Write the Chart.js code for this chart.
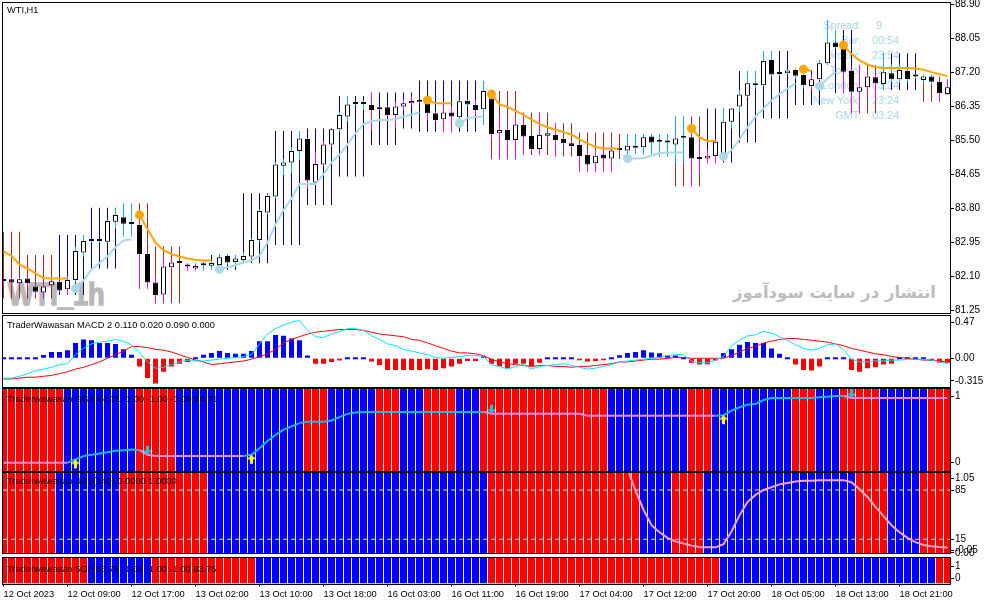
<!DOCTYPE html>
<html lang="en"><head><meta charset="utf-8">
<title>WTI,H1</title>
<script src="https://cdn.jsdelivr.net/npm/chart.js@4.4.1/dist/chart.umd.min.js"></script>
<style>
html,body{margin:0;padding:0;background:#fff;}
body{position:relative;width:991px;height:605px;overflow:hidden;}
canvas.cv{position:absolute;left:0;top:0;z-index:1;}
.lay{position:absolute;white-space:nowrap;font-family:"Liberation Sans",Arial,sans-serif;}
.bg{z-index:0;}
.fg{z-index:2;font-size:9.3px;line-height:12px;color:#000;}
#mark{left:8px;top:278px;font-size:32px;line-height:32px;font-weight:bold;color:#b8b8b8;-webkit-text-stroke:1.5px #b8b8b8;transform:scaleX(0.85);transform-origin:0 0;}
#fa{right:55px;top:280px;font-family:"DejaVu Sans",sans-serif;font-size:16.5px;line-height:26px;font-weight:bold;color:#bcbcbc;direction:rtl;}
#infoL{right:130px;top:17.5px;text-align:right;font-size:10.8px;line-height:15px;color:#add8e6;}
#infoV{left:872px;top:17.5px;font-size:10.8px;line-height:15px;color:#add8e6;}
</style></head>
<body>
<div class="lay bg" id="mark">WTI_1h</div>
<div class="lay bg" id="fa">انتشار در سایت سودآموز</div>
<div class="lay bg" id="infoL">Spread:<br>Bar:<br>Broker:<br>Tokyo:<br>London:<br>New York&nbsp;<br>GMT:</div>
<div class="lay bg" id="infoV"><span style="padding-left:4px">9</span><br>00:54<br>23:54<br>12:24<br>03:24<br>23:24<br>03:24</div>
<canvas class="cv" id="cMain" width="991" height="605"></canvas>
<canvas class="cv" id="cMacd" width="991" height="605"></canvas>
<canvas class="cv" id="cSga" width="991" height="605"></canvas>
<canvas class="cv" id="cG4" width="991" height="605"></canvas>
<canvas class="cv" id="cG5" width="991" height="605"></canvas>
<div class="lay fg" style="left:7px;top:4px">WTI,H1</div>
<div class="lay fg" style="left:7px;top:319px">TraderWawasan MACD 2 0.110 0.020 0.090 0.000</div>
<div class="lay fg" style="left:7px;top:393px">Traderwawasan SGA 84.71 -1.00 -1.00 -1.00 84.71</div>
<div class="lay fg" style="left:7px;top:474.5px">Traderwawasan 4G1(240) 0.0000 1.0000</div>
<div class="lay fg" style="left:7px;top:563px">Traderwawasan 5GA 83.75 -1.00 -1.00 -1.00 83.75</div>
<script>
// ---------------- data ----------------
const xLabels = ['12 Oct 2023','12 Oct 09:00','12 Oct 17:00','13 Oct 02:00','13 Oct 10:00','13 Oct 18:00','16 Oct 03:00','16 Oct 11:00','16 Oct 19:00','17 Oct 04:00','17 Oct 12:00','17 Oct 20:00','18 Oct 05:00','18 Oct 13:00','18 Oct 21:00'];
const LABEL_STEP = 8;

const open = [
82.00,82.03,81.93,82.05,81.85,81.70,81.88,81.97,81.78,82.01,
82.70,83.00,82.99,82.97,83.47,83.58,83.42,83.39,82.66,81.95,
81.65,82.33,82.46,82.37,82.30,82.38,82.37,82.39,82.61,82.46,
82.51,82.60,83.01,83.70,84.10,84.87,84.95,85.24,85.54,84.45,
84.90,85.40,85.78,86.10,86.42,86.41,86.39,86.30,86.33,86.14,
86.35,86.43,86.48,86.51,86.18,86.03,86.20,86.08,86.49,86.39,
86.28,86.55,85.68,85.76,85.51,85.89,85.61,85.29,85.62,85.64,
85.54,85.43,85.39,85.14,84.93,85.15,85.05,85.26,85.25,85.36,
85.33,85.60,85.47,85.46,85.40,85.58,85.58,85.05,85.05,85.11,
85.14,85.97,86.35,86.62,86.88,86.88,87.51,87.16,87.18,87.26,
87.14,86.86,87.03,87.43,87.95,87.95,87.24,86.72,86.83,87.08,
86.91,87.18,87.03,87.24,87.10,87.01,87.10,86.97,86.66];
const high = [
82.10,82.08,82.06,82.10,81.90,81.90,82.00,82.00,82.10,82.85,
83.14,83.05,83.04,83.52,83.80,83.93,83.93,83.64,82.70,82.10,
82.60,82.50,82.49,82.43,82.43,82.48,82.50,82.66,82.66,82.64,
82.70,83.05,83.78,84.15,84.95,85.04,85.33,85.74,85.56,85.22,
85.47,85.80,86.22,86.61,86.45,86.50,86.70,86.33,86.36,86.47,
86.53,86.60,86.52,86.55,86.22,86.43,86.35,86.50,86.52,86.51,
86.99,86.60,86.10,85.85,86.10,86.18,85.65,86.18,85.72,85.93,
85.58,85.46,85.43,85.18,85.26,85.26,85.43,85.30,85.66,85.66,
85.66,85.66,85.66,85.66,86.10,86.10,85.85,85.55,85.26,85.55,
86.30,86.30,86.76,87.24,87.24,87.74,87.74,87.20,87.28,87.30,
87.26,87.14,87.51,88.51,88.26,88.00,87.30,87.39,87.15,87.20,
87.68,87.40,87.40,87.30,87.15,87.15,87.15,86.99,87.03];
const low = [
81.86,81.90,81.88,81.88,81.64,81.60,81.85,81.72,81.64,81.95,
82.60,82.95,82.95,82.95,83.30,83.10,83.10,81.80,81.80,81.43,
81.43,82.30,82.42,82.25,82.25,82.25,82.26,82.18,82.40,82.35,
82.47,82.55,82.98,83.65,84.05,84.64,84.68,85.01,84.30,84.42,
84.85,85.35,85.72,85.97,86.38,86.26,85.76,86.25,86.10,85.80,
86.26,86.39,86.44,86.01,85.98,85.72,85.70,85.97,86.36,86.14,
85.89,85.55,85.03,85.03,85.03,85.14,85.25,85.14,85.58,85.10,
85.40,85.33,84.72,84.72,84.72,84.72,84.72,85.22,85.01,85.16,
85.15,85.15,85.10,85.10,84.95,84.95,84.35,84.68,84.93,84.93,
85.01,85.80,86.22,86.59,86.80,86.85,87.10,87.12,87.15,87.05,
86.80,86.76,87.01,87.39,87.80,86.68,86.18,86.18,86.60,86.55,
86.76,86.95,86.95,86.95,87.05,86.95,86.90,86.47,86.64];
const close = [
81.99,81.95,82.03,81.93,81.72,81.85,81.98,81.75,82.01,82.74,
82.99,82.99,83.00,83.49,83.64,83.42,83.41,82.66,81.95,81.64,
82.35,82.45,82.44,82.35,82.36,82.39,82.44,82.58,82.45,82.55,
82.61,83.01,83.74,84.11,84.90,84.95,85.24,85.55,84.50,84.91,
85.40,85.78,86.14,86.40,86.41,86.42,86.26,86.28,86.14,86.35,
86.43,86.49,86.47,86.18,86.01,86.20,86.10,86.48,86.40,86.26,
86.74,85.66,85.76,85.51,85.90,85.60,85.29,85.64,85.68,85.51,
85.43,85.36,85.11,84.90,85.12,85.05,85.25,85.26,85.37,85.32,
85.58,85.45,85.47,85.45,85.55,85.57,85.05,85.04,85.12,85.47,
85.97,86.30,86.65,86.93,86.89,87.49,87.15,87.16,87.25,87.12,
86.88,87.03,87.43,87.95,87.83,87.22,86.72,86.83,87.10,86.93,
87.22,87.03,87.26,87.04,87.10,87.10,86.97,86.68,86.83];
// wick tone: 1 = sky blue, -1 = magenta
const wickTone = [
-1,-1,-1,-1,-1,-1,-1,-1,-1,1,
1,1,1,1,1,1,1,-1,-1,-1,
-1,-1,-1,-1,-1,1,1,1,1,1,
1,1,1,1,1,1,1,1,-1,-1,
-1,-1,1,1,1,1,-1,-1,-1,-1,
-1,-1,-1,-1,-1,-1,-1,1,1,-1,
1,-1,-1,-1,-1,-1,-1,-1,-1,-1,
-1,-1,-1,-1,-1,-1,-1,-1,1,1,
1,1,1,1,1,1,-1,-1,-1,-1,
1,1,1,1,1,1,1,1,1,1,
1,-1,1,1,1,-1,-1,-1,-1,-1,
1,1,1,1,1,1,1,-1,-1];
// trend range bars behind candles: 1 = navy (up), -1 = brown (down), 0 = none
const rangeHi = [
83.22,83.22,83.22,82.64,82.64,82.64,82.64,83.14,83.14,83.14,
83.14,83.82,83.82,83.82,83.82,null,null,83.93,83.93,82.85,
82.85,82.85,82.85,null,null,null,82.64,null,82.64,82.64,
84.18,84.18,84.18,84.18,85.74,85.74,85.74,85.74,85.80,85.80,
85.80,85.80,86.61,86.61,86.61,86.61,86.70,86.70,86.70,86.70,
86.70,86.70,87.00,87.00,87.00,87.00,87.00,87.00,87.00,87.00,
null,86.74,86.74,86.74,86.74,86.20,86.20,86.20,86.20,85.93,
85.93,85.93,85.70,85.70,85.70,85.70,85.70,85.66,null,null,
null,null,null,null,86.10,86.10,86.10,86.10,86.30,86.30,
86.30,86.30,87.24,87.24,87.24,87.74,87.74,87.74,87.74,87.26,
87.26,87.26,87.26,null,88.26,88.26,88.26,87.39,87.39,87.39,
87.68,87.68,87.68,87.68,87.68,87.10,87.10,87.10,null];
const rangeLo = [
81.55,81.55,81.55,81.55,81.55,81.55,81.55,81.64,81.64,81.64,
81.64,82.30,82.30,82.30,82.30,null,null,81.80,81.80,81.43,
81.43,81.43,81.43,null,null,null,82.26,null,82.26,82.26,
82.43,82.43,82.43,82.43,82.89,82.89,82.89,82.89,83.89,83.89,
83.89,83.89,84.60,84.60,84.60,84.60,85.39,85.39,85.39,85.39,
85.80,85.80,85.72,85.72,85.72,85.72,85.72,85.72,85.72,85.72,
null,85.03,85.03,85.03,85.03,85.14,85.14,85.14,85.14,85.10,
85.10,85.10,84.72,84.72,84.72,84.72,84.72,85.04,null,null,
null,null,null,null,84.35,84.35,84.35,84.35,84.93,84.93,
84.95,84.95,85.45,85.45,85.45,86.05,86.05,86.05,86.05,86.39,
86.39,86.39,86.39,null,86.68,86.68,86.68,86.18,86.18,86.18,
86.76,86.76,86.76,86.76,86.76,86.47,86.47,86.47,null];
const rangeTone = [
-1,-1,-1,-1,-1,-1,-1,1,1,1,
1,1,1,1,1,0,0,-1,-1,-1,
-1,-1,-1,0,0,0,1,0,1,1,
1,1,1,1,1,1,1,1,1,1,
1,1,1,1,1,1,1,1,1,1,
1,1,1,1,1,1,1,1,1,1,
0,-1,-1,-1,-1,-1,-1,-1,-1,-1,
-1,-1,-1,-1,-1,-1,-1,-1,0,0,
0,0,0,0,-1,-1,-1,-1,1,1,
1,1,1,1,1,1,1,1,1,1,
1,1,1,0,1,1,1,-1,-1,-1,
1,1,1,1,1,-1,-1,-1,0];
// stop lines
const resistance = [
82.72,82.62,82.40,82.30,82.18,82.06,82.05,82.05,82.05,null,
null,null,null,null,null,null,null,83.64,83.28,82.95,
82.76,82.66,82.60,82.55,82.52,82.50,82.50,null,null,null,
null,null,null,null,null,null,null,null,null,null,
null,null,null,null,null,null,null,null,null,null,
null,null,null,86.51,86.43,86.43,86.43,null,null,null,
null,86.66,86.40,86.34,86.24,86.14,86.02,85.91,85.83,85.77,
85.71,85.65,85.53,85.43,85.34,85.30,85.30,85.30,null,null,
null,null,null,null,null,null,85.80,85.58,85.49,85.49,
null,null,null,null,null,null,null,null,null,null,
87.28,87.24,null,null,null,87.88,87.66,87.50,87.40,87.33,
87.31,87.31,87.31,87.31,87.30,87.27,87.21,87.16,87.11];
const support = [
null,null,null,null,null,null,null,null,null,81.80,
82.00,82.27,82.44,82.60,82.83,83.00,83.03,null,null,null,
null,null,null,null,null,null,null,82.28,82.33,82.38,
82.45,82.50,82.62,82.95,83.40,83.76,84.05,84.41,84.41,84.41,
84.65,84.95,85.15,85.40,85.68,85.91,85.98,86.01,86.01,86.03,
86.10,86.15,86.20,null,null,null,null,85.93,86.06,86.09,
86.10,null,null,null,null,null,null,null,null,null,
null,null,null,null,null,null,null,null,85.05,85.05,
85.06,85.12,85.19,85.20,85.20,85.20,null,null,null,null,
85.10,85.26,85.53,85.83,86.10,86.30,86.50,86.66,86.80,86.92,
null,null,86.86,87.05,87.22,null,null,null,null,null,
null,null,null,null,null,null,null,null,null];
const mainTicks = [88.90,88.05,87.20,86.35,85.50,84.65,83.80,82.95,82.10,81.25];

// MACD
const macdHist = [
0,0,0,0,0,0.037,0.07,0.07,0.09,0.17,
0.21,0.20,0.17,0.17,0.16,0.10,0.04,-0.09,-0.22,-0.28,
-0.15,-0.09,-0.06,-0.04,0,0.04,0.06,0.08,0.06,0.05,
0.05,0.08,0.19,0.19,0.26,0.25,0.22,0.20,0.03,-0.06,
-0.06,-0.04,-0.025,0,0,0,-0.035,-0.075,-0.13,-0.13,
-0.13,-0.13,-0.13,-0.12,-0.13,-0.11,-0.09,-0.06,-0.03,-0.03,
0.02,-0.06,-0.09,-0.11,-0.06,-0.06,-0.09,-0.05,0,0,
0,0,-0.02,-0.035,-0.03,-0.02,0,0.035,0.06,0.07,
0.09,0.065,0.055,0.03,0.03,0,-0.05,-0.07,-0.065,-0.025,
0.06,0.10,0.15,0.18,0.17,0.17,0.11,0.05,0,-0.07,
-0.13,-0.135,-0.09,0,0,0,-0.13,-0.15,-0.11,-0.10,
-0.07,-0.06,0,0,0,0,-0.03,-0.05,-0.05];
const macdMain = [
-0.22,-0.22,-0.20,-0.17,-0.14,-0.12,-0.10,-0.07,-0.06,0.04,
0.11,0.16,0.18,0.19,0.21,0.19,0.15,0.06,-0.04,-0.11,
-0.10,-0.07,-0.04,-0.02,-0.03,-0.03,-0.02,-0.01,0.00,0.01,
0.02,0.04,0.16,0.27,0.33,0.37,0.40,0.42,0.31,0.24,
0.23,0.27,0.30,0.33,0.33,0.31,0.25,0.21,0.16,0.14,
0.10,0.08,0.06,0.04,0.01,0.00,0.01,0.02,0.03,0.03,
0.02,-0.07,-0.09,-0.12,-0.09,-0.07,-0.12,-0.09,-0.08,-0.07,
-0.06,-0.08,-0.10,-0.12,-0.11,-0.09,-0.07,-0.04,-0.03,-0.02,
-0.01,0.00,0.01,0.03,0.04,0.04,-0.03,-0.05,-0.05,-0.02,
0.02,0.14,0.20,0.25,0.26,0.30,0.28,0.24,0.20,0.15,
0.11,0.09,0.11,0.15,0.16,0.10,-0.01,-0.04,-0.04,-0.03,
-0.03,-0.02,-0.02,-0.01,-0.01,-0.01,-0.02,-0.04,-0.06];
const macdSignal = [
-0.23,-0.23,-0.22,-0.21,-0.21,-0.20,-0.19,-0.17,-0.15,-0.12,
-0.10,-0.07,-0.04,0.00,0.04,0.08,0.13,0.13,0.12,0.10,
0.09,0.07,0.04,0.01,-0.02,-0.04,-0.07,-0.06,-0.05,-0.04,
-0.03,-0.01,0.02,0.05,0.10,0.17,0.21,0.24,0.27,0.29,
0.30,0.31,0.32,0.32,0.32,0.31,0.29,0.27,0.26,0.25,
0.24,0.21,0.20,0.17,0.14,0.11,0.08,0.06,0.06,0.05,
0.03,-0.01,-0.04,-0.06,-0.07,-0.08,-0.09,-0.08,-0.08,-0.09,
-0.09,-0.10,-0.09,-0.09,-0.08,-0.07,-0.06,-0.04,-0.04,-0.03,
-0.02,-0.01,-0.01,0.00,0.01,0.01,0.00,0.00,0.00,0.00,
0.00,0.03,0.07,0.11,0.13,0.17,0.19,0.21,0.22,0.22,
0.21,0.20,0.19,0.18,0.16,0.14,0.11,0.09,0.07,0.05,
0.04,0.02,0.01,0.00,-0.01,-0.02,-0.02,-0.03,-0.04];
const macdTickLabels = ['0.47','0.00','-0.315'];

// SGA (1 = blue, -1 = red)
const sgaState = [
-1,-1,-1,-1,-1,-1,-1,-1,1,1,
1,1,1,1,1,1,1,-1,-1,-1,
-1,-1,1,1,1,1,1,1,1,1,
1,1,1,1,1,1,1,1,-1,-1,
-1,1,1,1,1,1,1,-1,-1,-1,
1,1,1,-1,-1,-1,-1,1,1,1,
-1,-1,-1,-1,-1,-1,-1,-1,-1,-1,
-1,-1,-1,-1,-1,-1,1,1,1,1,
1,1,1,1,1,1,-1,-1,-1,1,
1,1,1,1,1,1,1,1,1,-1,
-1,-1,1,1,1,-1,-1,-1,-1,-1,
1,1,1,1,1,1,-1,-1,-1];
const sgaLine = [
0,0,0,0,0,0,0,0,0,0.05,
0.10,0.12,0.14,0.16,0.18,0.19,0.20,0.19,0.12,0.10,
0.10,0.10,0.10,0.10,0.10,0.10,0.10,0.10,0.10,0.10,
0.10,0.12,0.22,0.33,0.42,0.50,0.55,0.60,0.62,0.62,
0.62,0.64,0.69,0.74,0.76,0.77,0.77,0.77,0.77,0.77,
0.77,0.77,0.77,0.77,0.77,0.77,0.77,0.77,0.77,0.77,
0.77,0.74,0.74,0.74,0.74,0.74,0.74,0.74,0.74,0.74,
0.74,0.74,0.74,0.71,0.71,0.71,0.71,0.71,0.71,0.71,
0.71,0.71,0.71,0.71,0.71,0.71,0.71,0.71,0.71,0.71,
0.72,0.79,0.84,0.88,0.89,0.95,0.98,0.98,0.98,0.98,
0.98,0.98,0.99,1.00,1.01,1.01,0.98,0.98,0.98,0.98,
0.98,0.98,0.98,0.98,0.98,0.98,0.98,0.98,0.98];
const sgaUpArrows = [9, 31, 90];
const sgaDownArrows = [18, 61, 106];
const sgaTickLabels = ['1','0'];

// 4G1
const g4State = [
-1,-1,-1,-1,-1,-1,-1,1,1,1,
1,1,1,1,1,-1,-1,-1,-1,-1,
-1,-1,-1,-1,-1,-1,1,1,1,1,
1,1,1,1,1,1,1,1,1,1,
1,1,1,1,1,1,1,1,1,1,
1,1,1,1,1,1,1,1,1,1,
1,-1,-1,-1,-1,-1,-1,-1,-1,-1,
-1,-1,-1,-1,-1,-1,-1,-1,-1,-1,
1,1,1,1,-1,-1,-1,-1,1,1,
1,1,1,1,1,1,1,1,1,1,
1,1,1,1,1,1,1,-1,-1,-1,
-1,1,1,1,1,-1,-1,-1,-1];
const g4Line = [
null,null,null,null,null,null,null,null,null,null,
null,null,null,null,null,null,null,null,null,null,
null,null,null,null,null,null,null,null,null,null,
null,null,null,null,null,null,null,null,null,null,
null,null,null,null,null,null,null,null,null,null,
null,null,null,null,null,null,null,null,null,null,
null,null,null,null,null,null,null,null,null,null,
null,null,null,null,null,null,null,null,1.15,0.84,
0.57,0.35,0.25,0.17,0.12,0.09,0.06,0.04,0.036,0.036,
0.08,0.26,0.49,0.68,0.78,0.85,0.89,0.93,0.95,0.97,
0.98,0.98,0.99,0.99,0.99,0.99,0.96,0.86,0.75,0.61,
0.48,0.35,0.25,0.17,0.11,0.07,0.05,0.04,0.035];
const g4Levels = [0.85, 0.15];
const g4TickLabels = ['1.05','85','15','-0.05','0.00'];

// 5GA
const g5State = [
-1,-1,-1,-1,-1,-1,-1,-1,-1,-1,
-1,1,1,1,1,1,1,1,1,-1,
-1,-1,-1,-1,-1,-1,-1,-1,-1,-1,
-1,-1,1,1,1,1,1,1,1,1,
1,1,1,1,1,1,1,1,1,1,
1,1,1,1,1,1,1,1,1,1,
1,-1,-1,-1,-1,-1,-1,-1,-1,-1,
-1,-1,-1,-1,-1,-1,-1,-1,-1,-1,
-1,-1,-1,-1,-1,-1,-1,-1,-1,-1,
1,1,1,1,1,1,1,1,1,1,
1,1,1,1,1,1,1,1,1,1,
1,1,1,1,1,1,1,-1,-1];
const g5TickLabels = ['1','0'];

// ---------------- styles / layout ----------------
const NAVY = '#000080', BROWN = '#962b2b', SKY = '#1ca8e8', MAGENTA = '#ff00ff';
const RED = '#ff0000', BLUE = '#0000ff';
const ORANGE = '#ffa500', LIGHTBLUE = '#add8e6';
const SGA_UP = '#21b4e6', SGA_DOWN = '#e98ae3';
const X_MIN = -0.0625, X_MAX = 118.3125, AXIS_W = 41;
const bars = open.map((_, i) => i);

Chart.defaults.font.family = "'Liberation Sans', Arial, sans-serif";
Chart.defaults.font.size = 10;
Chart.defaults.color = '#000';

const framePlugin = {
  id: 'frame',
  afterDraw(chart) {
    const {ctx, chartArea: a} = chart;
    const l = Math.round(a.left) - 0.5, t = Math.round(a.top) - 0.5;
    const r = Math.round(a.right) + 0.5, b = Math.round(a.bottom) + 0.5;
    ctx.save();
    ctx.strokeStyle = '#000';
    ctx.lineWidth = 1;
    ctx.strokeRect(l, t, r - l, b - t);
    ctx.restore();
  }
};

function xAxis(show) {
  return {
    type: 'linear', min: X_MIN, max: X_MAX, offset: false, display: show,
    grid: {display: show, drawOnChartArea: false, drawTicks: true, tickLength: 3, color: '#000', offset: false},
    border: {display: false},
    afterFit(s) { s.paddingLeft = 0; s.paddingRight = 0; if (show) s.height = 21.5; },
    afterBuildTicks(s) { s.ticks = xLabels.map((t, k) => ({value: k * LABEL_STEP})); },
    ticks: {autoSkip: false, maxRotation: 0, minRotation: 0, align: 'start', padding: 2,
      font: {size: 9.3}, callback: (v, i) => xLabels[i]}
  };
}
function yAxis(min, max, pos, text) {
  return {
    type: 'linear', position: 'right', min, max,
    grid: {drawOnChartArea: false, drawTicks: true, tickLength: 4, color: '#000'},
    border: {display: false},
    afterFit(s) { s.width = AXIS_W; s.paddingTop = 0; s.paddingBottom = 0; },
    afterBuildTicks(s) { s.ticks = pos.map(v => ({value: v})); },
    ticks: {autoSkip: false, padding: 1, font: {size: 10}, callback: (v, i) => text[i]}
  };
}
function options(top, bottom, xShow, y) {
  return {
    responsive: false, animation: false, events: [],
    layout: {autoPadding: false, padding: {left: 3, right: 0, top, bottom}},
    plugins: {legend: {display: false}, tooltip: {enabled: false}},
    scales: {x: xAxis(xShow), y}
  };
}
function stateBars(state, lo, hi, order) {
  return {type: 'bar', order, grouped: false, barThickness: 7, inflateAmount: 0, clip: 0, borderWidth: 0,
    data: bars.map(i => ({x: i, y: [lo, hi]})),
    backgroundColor: bars.map(i => state[i] > 0 ? BLUE : RED)};
}
function stopLine(arr, color, order) {
  return {type: 'line', order, data: bars.map(i => ({x: i, y: arr[i]})),
    borderColor: color, backgroundColor: color, borderWidth: 2, spanGaps: false,
    pointRadius: bars.map(i => (i > 0 && arr[i] != null && arr[i - 1] == null) ? 4.5 : 0),
    pointBorderWidth: 0, pointBackgroundColor: color};
}
function arrowImg(color, up) {
  const c = document.createElement('canvas'); c.width = 9; c.height = 24;
  const g = c.getContext('2d'); g.fillStyle = color; g.beginPath();
  if (up) { g.moveTo(4.5, 12); g.lineTo(9, 16.5); g.lineTo(6, 16.5); g.lineTo(6, 21); g.lineTo(3, 21); g.lineTo(3, 16.5); g.lineTo(0, 16.5); }
  else { g.moveTo(4.5, 12); g.lineTo(9, 7.5); g.lineTo(6, 7.5); g.lineTo(6, 3); g.lineTo(3, 3); g.lineTo(3, 7.5); g.lineTo(0, 7.5); }
  g.closePath(); g.fill();
  return c;
}

// ---------------- main price panel ----------------
new Chart(document.getElementById('cMain'), {
  type: 'bar',
  data: {datasets: [
    stopLine(support, LIGHTBLUE, 1),
    stopLine(resistance, ORANGE, 1),
    {type: 'bar', order: 2, grouped: false, barThickness: 5, minBarLength: 2, inflateAmount: 0, clip: 0,
      borderSkipped: false, borderWidth: 1, borderColor: '#000',
      data: bars.map(i => ({x: i, y: [open[i], close[i]]})),
      backgroundColor: bars.map(i => close[i] > open[i] ? '#fff' : '#000')},
    {type: 'bar', order: 3, grouped: false, barThickness: 1, inflateAmount: 0, clip: 0, borderWidth: 0,
      data: bars.map(i => ({x: i, y: [low[i], high[i]]})),
      backgroundColor: bars.map(i => wickTone[i] > 0 ? SKY : MAGENTA)},
    {type: 'bar', order: 4, grouped: false, barThickness: 1, inflateAmount: 0, clip: 0, borderWidth: 0,
      data: bars.filter(i => rangeTone[i] !== 0).map(i => ({x: i, y: [rangeLo[i], rangeHi[i]]})),
      backgroundColor: bars.filter(i => rangeTone[i] !== 0).map(i => rangeTone[i] > 0 ? NAVY : BROWN)}
  ]},
  options: options(3, 292, false, yAxis(81.1875, 88.9375, mainTicks, mainTicks.map(v => v.toFixed(2)))),
  plugins: [framePlugin]
});

// ---------------- MACD panel ----------------
new Chart(document.getElementById('cMacd'), {
  type: 'bar',
  data: {datasets: [
    {type: 'line', order: 1, data: bars.map(i => ({x: i, y: macdMain[i]})), borderColor: '#00e5ff', borderWidth: 1, pointRadius: 0},
    {type: 'line', order: 2, data: bars.map(i => ({x: i, y: macdSignal[i]})), borderColor: RED, borderWidth: 1, pointRadius: 0},
    {type: 'bar', order: 3, grouped: false, barThickness: 5, minBarLength: 2, inflateAmount: 0, clip: 0, borderWidth: 0,
      data: bars.map(i => ({x: i, y: macdHist[i]})),
      backgroundColor: bars.map(i => macdHist[i] < 0 ? RED : BLUE)}
  ]},
  options: options(315.5, 218, false, yAxis(-0.3189, 0.4756, [0.40, 0, -0.25], macdTickLabels)),
  plugins: [framePlugin]
});

// ---------------- SGA panel ----------------
const SGA_MIN = -0.1258, SGA_MAX = 1.1167;
function sgaTrendAt(i) {
  let up = -1, dn = -1;
  sgaUpArrows.forEach(a => { if (a <= i) up = Math.max(up, a); });
  sgaDownArrows.forEach(a => { if (a <= i) dn = Math.max(dn, a); });
  return up > dn ? 1 : -1;
}
new Chart(document.getElementById('cSga'), {
  type: 'bar',
  data: {datasets: [
    {type: 'line', order: 1, data: sgaUpArrows.map(i => ({x: i, y: sgaLine[i]})), showLine: false,
      pointStyle: arrowImg('#ffff00', true), pointRadius: 5},
    {type: 'line', order: 1, data: sgaDownArrows.map(i => ({x: i, y: sgaLine[i]})), showLine: false,
      pointStyle: arrowImg('#19c5e0', false), pointRadius: 5},
    {type: 'line', order: 2, data: bars.map(i => ({x: i, y: sgaLine[i]})), borderWidth: 2, pointRadius: 0,
      borderColor: SGA_DOWN, segment: {borderColor: c => sgaTrendAt(c.p1DataIndex) > 0 ? SGA_UP : SGA_DOWN}},
    stateBars(sgaState, SGA_MIN, SGA_MAX, 3)
  ]},
  options: options(389, 134, false, yAxis(SGA_MIN, SGA_MAX, [1, 0], sgaTickLabels)),
  plugins: [framePlugin]
});

// ---------------- 4G1 panel ----------------
const G4_MIN = -0.0445, G4_MAX = 1.0914;
new Chart(document.getElementById('cG4'), {
  type: 'bar',
  data: {datasets: [
    {type: 'line', order: 1, data: bars.map(i => ({x: i, y: g4Line[i]})), borderColor: '#f0a8c0', borderWidth: 2, pointRadius: 0, spanGaps: false},
    ...g4Levels.map(v => ({type: 'line', order: 2, data: [{x: X_MIN, y: v}, {x: X_MAX, y: v}],
      borderColor: '#d8d8d8', borderWidth: 1, borderDash: [5, 3], pointRadius: 0})),
    stateBars(g4State, G4_MIN, G4_MAX, 3)
  ]},
  options: options(473, 52, false, yAxis(G4_MIN, G4_MAX, [1.016, 0.85, 0.15, -0.002, -0.044], g4TickLabels)),
  plugins: [framePlugin]
});

// ---------------- 5GA panel (with time axis) ----------------
const G5_MIN = -0.448, G5_MAX = 1.793;
new Chart(document.getElementById('cG5'), {
  type: 'bar',
  data: {datasets: [stateBars(g5State, G5_MIN, G5_MAX, 1)]},
  options: options(557.5, 0, true, yAxis(G5_MIN, G5_MAX, [1, 0], g5TickLabels)),
  plugins: [framePlugin]
});
</script>
</body></html>
